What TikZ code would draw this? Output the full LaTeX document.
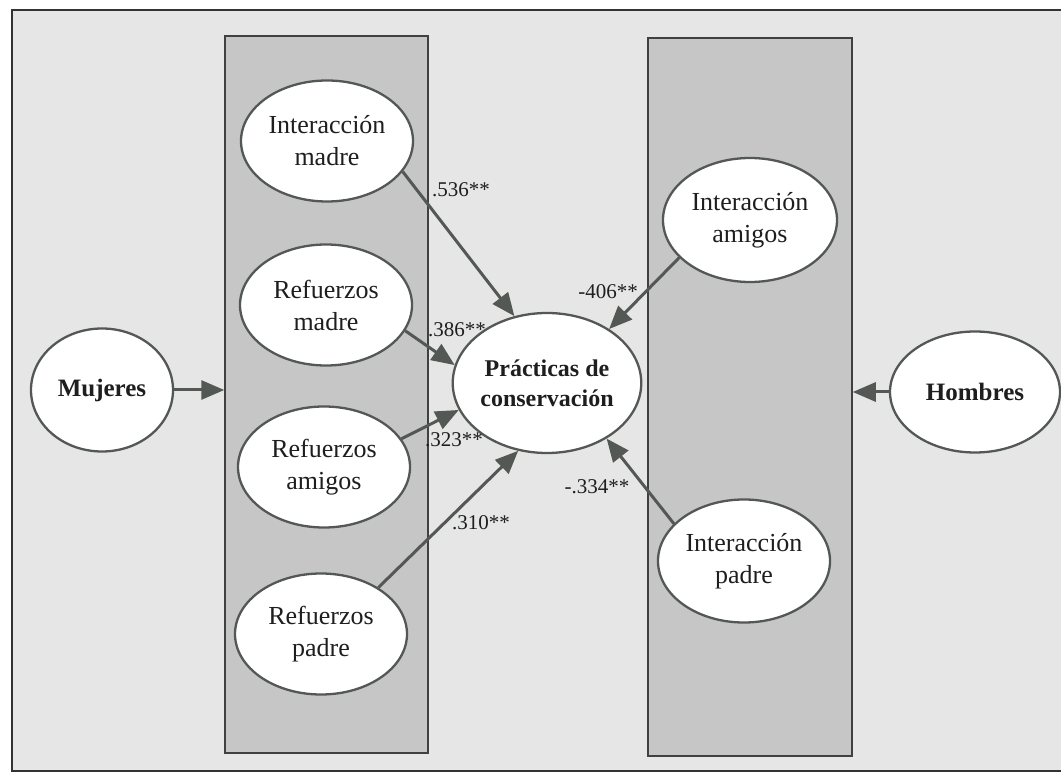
\documentclass[tikz,border=0pt]{standalone}
\usepackage{fontspec}
\setmainfont{Liberation Serif}
\usepackage{tikz}
\usepackage{xcolor}
\usetikzlibrary{arrows.meta,shapes.geometric}

\definecolor{panelgray}{RGB}{197,198,197}
\definecolor{backgray}{RGB}{229,230,229}
\definecolor{linegray}{RGB}{84,88,85}
\definecolor{textgray}{RGB}{30,30,30}

\begin{document}
\begin{tikzpicture}[x=1pt, y=-1pt,
        var/.style={ellipse, draw=linegray, line width=2.3pt, fill=white, inner sep=0pt,
                minimum width=172pt, minimum height=121pt, align=center, text=textgray,
                font=\fontsize{26}{32}\selectfont},
        boldvar/.style={var, font=\fontsize{25}{31}\selectfont\bfseries},
        panel/.style={rectangle, draw=black!75, line width=1.5pt, fill=panelgray, inner sep=0pt},
        coef/.style={text=textgray, inner sep=0pt, font=\fontsize{21}{25}\selectfont},
        effect/.style={draw=linegray, line width=3pt, -{Triangle[length=23pt, width=19pt]}}]
                \useasboundingbox (0, 0) rectangle (1061, 775);
                \clip (0, 0) rectangle (1061, 775);
                \fill[white] (0, 0) rectangle (1061, 775);
                \draw[fill=backgray, draw=black!80, line width=2pt] (12, 10) rectangle (1080, 771);

                \node[panel, minimum width=203pt, minimum height=717pt] (l_panel) at (326.5, 394.5) {};
                \node[panel, minimum width=204pt, minimum height=718pt] (r_panel) at (750, 397) {};

                \node[boldvar, minimum width=142pt, minimum height=123pt] (mujeres) at (102, 390) {Mujeres};
                \node[boldvar, minimum width=170pt] (hombres) at (975, 392) {Hombres};

                \node[var] (l_im) at (327, 141) {Interacción\\madre};
                \node[var] (l_rm) at (326, 305) {Refuerzos\\madre};
                \node[var] (l_ra) at (324, 467) {Refuerzos\\amigos};
                \node[var] (l_rp) at (321, 634) {Refuerzos\\padre};

                \node[var, minimum width=174pt, minimum height=124pt] (r_ia) at (750, 220) {Interacción\\amigos};
                \node[var, minimum height=123pt] (r_ip) at (744, 561) {Interacción\\padre};

                \node[boldvar, minimum width=152pt, minimum height=140pt,
                        font=\fontsize{24}{30}\selectfont\bfseries] (pc) at (547, 383) {Prácticas de\\conservación};

                \node[coef] (c_im) at (461, 190) {.536**};
                \node[coef] (c_rm) at (457, 330) {.386**};
                \node[coef] (c_ra) at (454, 440) {.323**};
                \node[coef] (c_rp) at (481, 523) {.310**};
                \node[coef] (c_ia) at (608, 292) {-406**};
                \node[coef] (c_ip) at (597, 487) {-.334**};

                \draw[effect]
                (mujeres.east) -- (mujeres.east -| l_panel.west);
                \draw[effect]
                (hombres.west) -- (hombres.west -| r_panel.east);
                \draw[effect] (l_im.-22) -- (pc.116);
                \draw[effect] (l_rm.-18) -- (pc.169);
                \draw[effect] (l_ra.20) -- (pc.197);
                \draw[effect] (l_rp.39) -- (pc.247);
                \draw[effect] (r_ia.208) -- (pc.41);
                \draw[effect] (r_ip.152) -- (pc.317);
            \end{tikzpicture}
\end{document}
